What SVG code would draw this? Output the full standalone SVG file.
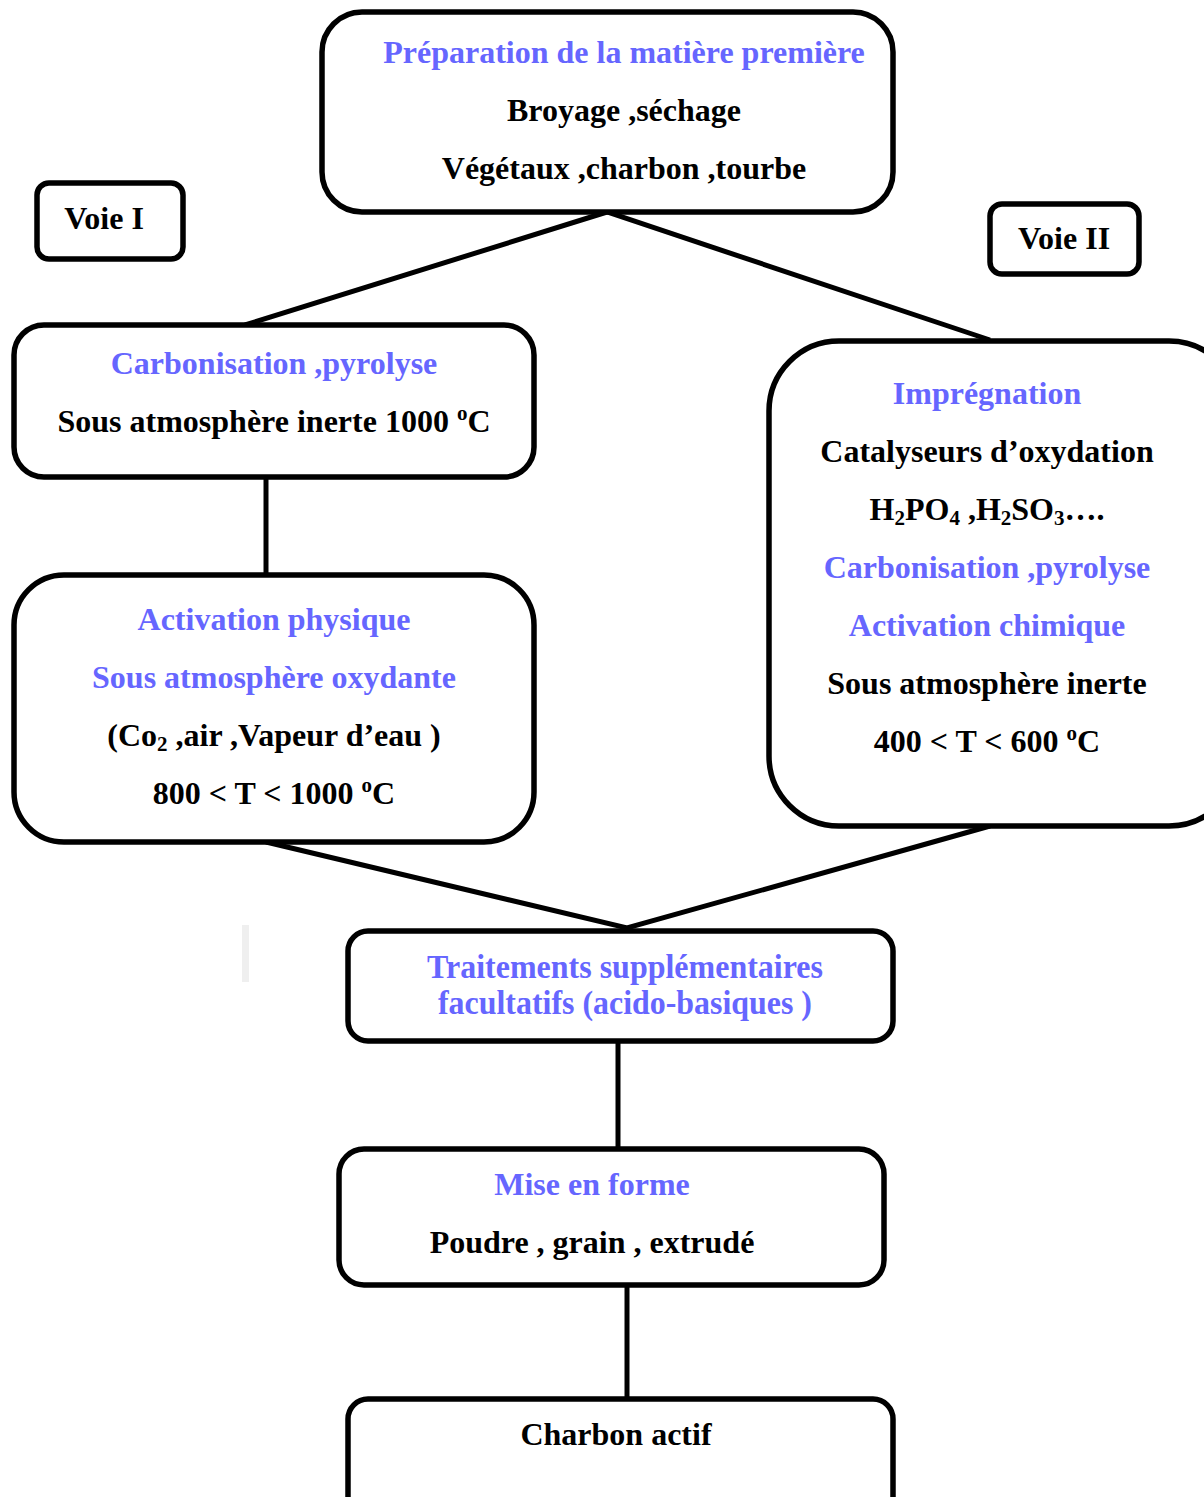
<svg xmlns="http://www.w3.org/2000/svg" width="1204" height="1497" viewBox="0 0 1204 1497">
<style>
.box{fill:#fff;stroke:#000;stroke-width:5.5}
.ln{stroke:#000;stroke-width:5;fill:none}
text{font-family:"Liberation Serif","Times New Roman",serif;font-weight:bold;font-size:32px;text-anchor:middle}
.b{fill:#6666ff}
.k{fill:#000}
.s{font-size:21px}
.t{font-size:34px}
</style>
<rect width="1204" height="1497" fill="#fff"/>
<rect x="242" y="925" width="7" height="57" fill="#efefef"/>
<g id="connectors">
<polyline class="ln" points="245,325 607,212 990,340"/>
<line class="ln" x1="266" y1="477" x2="266" y2="575"/>
<polyline class="ln" points="266,842 627,928 990,826"/>
<line class="ln" x1="618" y1="1041" x2="618" y2="1148"/>
<line class="ln" x1="627" y1="1285" x2="627" y2="1398"/>
</g>
<g id="preparation">
<rect class="box" x="322" y="12" width="571" height="200" rx="40"/>
<text class="b" x="624" y="63">Préparation de la matière première</text>
<text class="k" x="624" y="121">Broyage ,séchage</text>
<text class="k" x="624" y="179">Végétaux ,charbon ,tourbe</text>
</g>
<g id="voie1">
<rect class="box" x="37" y="183" width="146" height="76" rx="12"/>
<text class="k" x="104" y="229">Voie I</text>
</g>
<g id="voie2">
<rect class="box" x="990" y="204" width="149" height="70" rx="12"/>
<text class="k" x="1064" y="249">Voie II</text>
</g>
<g id="carbonisation">
<rect class="box" x="14" y="325" width="520" height="152" rx="30"/>
<text class="b" x="274" y="374">Carbonisation ,pyrolyse</text>
<text class="k" x="274" y="432">Sous atmosphère inerte 1000 <tspan class="s" dy="-12">o</tspan><tspan dy="12">C</tspan></text>
</g>
<g id="activation-physique">
<rect class="box" x="14" y="575" width="520" height="267" rx="50"/>
<text class="b" x="274" y="630">Activation physique</text>
<text class="b" x="274" y="688">Sous atmosphère oxydante</text>
<text class="k" x="274" y="746">(Co<tspan class="s" dy="5">2</tspan><tspan dy="-5"> ,air ,Vapeur d’eau )</tspan></text>
<text class="k" x="274" y="804">800 &lt; T &lt; 1000 <tspan class="s" dy="-12">o</tspan><tspan dy="12">C</tspan></text>
</g>
<g id="voie2-process">
<rect class="box" x="769" y="341" width="470" height="485" rx="70"/>
<text class="b" x="987" y="404">Imprégnation</text>
<text class="k" x="987" y="462">Catalyseurs d’oxydation</text>
<text class="k" x="987" y="520">H<tspan class="s" dy="5">2</tspan><tspan dy="-5">PO</tspan><tspan class="s" dy="5">4</tspan><tspan dy="-5"> ,H</tspan><tspan class="s" dy="5">2</tspan><tspan dy="-5">SO</tspan><tspan class="s" dy="5">3</tspan><tspan dy="-5">….</tspan></text>
<text class="b" x="987" y="578">Carbonisation ,pyrolyse</text>
<text class="b" x="987" y="636">Activation chimique</text>
<text class="k" x="987" y="694">Sous atmosphère inerte</text>
<text class="k" x="987" y="752">400 &lt; T &lt; 600 <tspan class="s" dy="-12">o</tspan><tspan dy="12">C</tspan></text>
</g>
<g id="traitements">
<rect class="box" x="348" y="931" width="545" height="110" rx="20"/>
<text class="b t" x="625" y="978" textLength="396" lengthAdjust="spacingAndGlyphs">Traitements supplémentaires</text>
<text class="b t" x="625" y="1014" textLength="374" lengthAdjust="spacingAndGlyphs">facultatifs (acido-basiques )</text>
</g>
<g id="mise-en-forme">
<rect class="box" x="339" y="1149" width="545" height="136" rx="25"/>
<text class="b" x="592" y="1195">Mise en forme</text>
<text class="k" x="592" y="1253">Poudre , grain , extrudé</text>
</g>
<g id="charbon-actif">
<rect class="box" x="348" y="1399" width="545" height="130" rx="20"/>
<text class="k" x="616" y="1445">Charbon actif</text>
</g>
</svg>
